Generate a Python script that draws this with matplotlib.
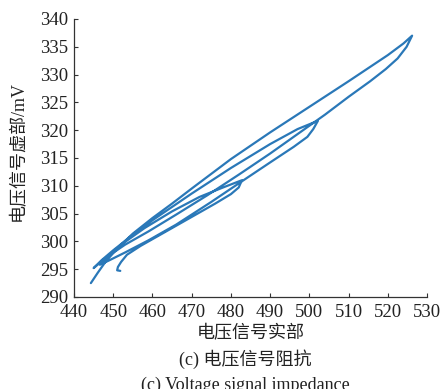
import numpy as np
import matplotlib
matplotlib.use("Agg")
import matplotlib.pyplot as plt

# 电压信号阻抗: 实部 (x) / 虚部 (y), 分段读取
up1_x = [444.3, 446.0, 448.0, 451.0, 455.0, 460.0, 465.0, 470.0, 480.0, 490.0, 500.0, 510.0, 520.0, 524.0, 526.2]
up1_y = [292.5, 294.3, 296.3, 298.7, 301.4, 304.2, 306.8, 309.5, 314.8, 319.6, 324.2, 328.8, 333.5, 335.6, 337.0]

down1_x = [524.8, 522.5, 519.5, 515.5, 510.0, 504.0, 498.0, 490.0, 482.0, 474.0, 466.0, 459.0, 453.0, 448.0, 445.0]
down1_y = [335.0, 332.9, 331.0, 328.8, 326.0, 322.8, 319.8, 315.8, 312.0, 308.3, 304.8, 301.8, 299.4, 297.0, 295.2]

up2_x = [447.0, 450.0, 455.0, 460.0, 470.0, 480.0, 490.0, 497.0, 502.2]
up2_y = [296.6, 298.4, 301.2, 303.8, 308.6, 313.2, 317.5, 320.2, 321.7]

down2_x = [501.0, 499.5, 496.0, 490.0, 483.0, 475.0, 466.0, 459.0, 453.0, 449.0, 446.6]
down2_y = [320.2, 318.8, 317.0, 314.2, 310.9, 307.1, 303.0, 300.2, 298.0, 296.6, 295.8]

up3_x = [448.5, 452.0, 458.0, 465.0, 472.0, 478.0, 482.8]
up3_y = [297.2, 299.4, 302.4, 305.4, 308.0, 309.7, 311.0]

down3_x = [482.0, 480.0, 476.0, 470.0, 463.0, 457.0, 453.5, 452.0, 451.2, 451.0, 451.8]
down3_y = [309.7, 308.5, 306.8, 304.4, 301.6, 299.2, 297.6, 296.3, 295.4, 294.8, 294.7]

x_ticks = [440, 450, 460, 470, 480, 490, 500, 510, 520, 530]
y_ticks = [290, 295, 300, 305, 310, 315, 320, 325, 330, 335, 340]

re_part = np.concatenate([up1_x, down1_x, up2_x, down2_x, up3_x, down3_x])
im_part = np.concatenate([up1_y, down1_y, up2_y, down2_y, up3_y, down3_y])

W, H = 442, 389
fig = plt.figure(figsize=(W / 100, H / 100), dpi=100)
ax = fig.add_axes([74 / W, 1 - 297 / H, (427 - 74) / W, (297 - 19) / H])

ax.plot(re_part, im_part, color="#2a78b8", lw=1.6, solid_joinstyle="round", solid_capstyle="round")

ax.set_xlim(440, 530)
ax.set_ylim(290, 340)
ax.set_xticks(x_ticks)
ax.set_yticks(y_ticks)
for s in ["top", "right"]:
    ax.spines[s].set_visible(False)
for s in ["left", "bottom"]:
    ax.spines[s].set_linewidth(0.9)
    ax.spines[s].set_color("#333333")
ax.tick_params(direction="in", length=3, width=0.8, color="#333333")
ax.tick_params(axis="x", pad=5)
ax.tick_params(axis="y", pad=4)
for lab in ax.get_xticklabels() + ax.get_yticklabels():
    lab.set_fontfamily("Liberation Serif")
    lab.set_fontsize(13.5)
    lab.set_color("#222222")

fam = ["Liberation Serif", "Noto Sans CJK SC"]
fig.text(18 / W, 1 - 151 / H, "电压信号虚部/mV", rotation=90, ha="center", va="center",
         family=fam, fontsize=13, color="#222222")
fig.text(251 / W, 1 - 334 / H, "电压信号实部", ha="center", va="center",
         family=fam, fontsize=13, color="#222222")
fig.text(245 / W, 1 - 359 / H, "(c) 电压信号阻抗", ha="center", va="center",
         family=fam, fontsize=13, color="#222222")
fig.text(245 / W, 1 - 385 / H, "(c) Voltage signal impedance", ha="center", va="center",
         family=fam, fontsize=13, color="#222222")

fig.savefig("out.png", dpi=100)
